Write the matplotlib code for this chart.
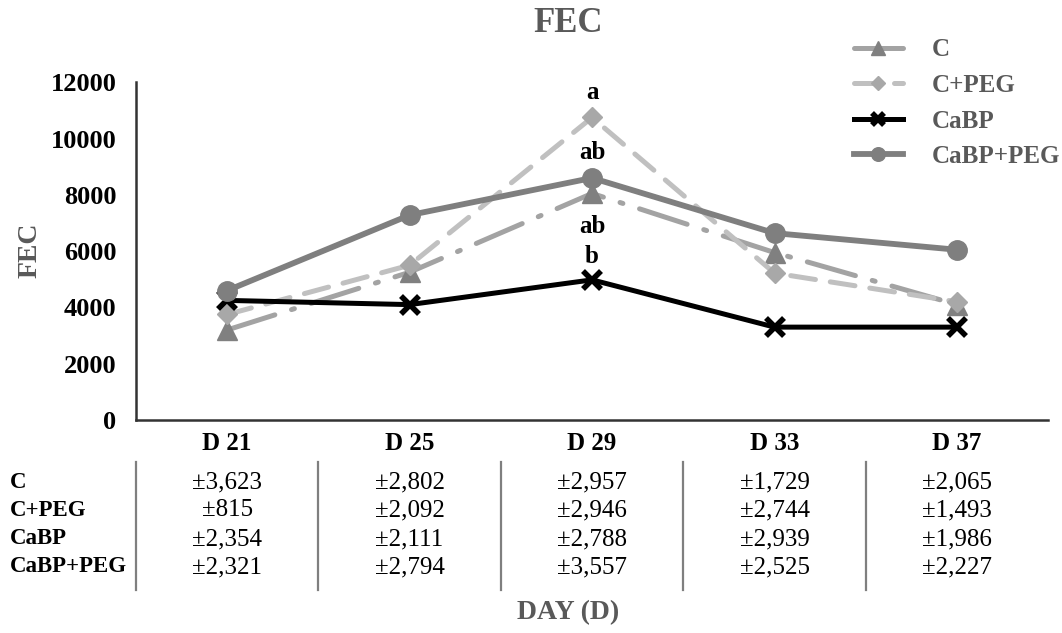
import numpy as np
import matplotlib
matplotlib.use("Agg")
import matplotlib.pyplot as plt
import matplotlib.transforms as mtransforms

plt.rcParams["font.family"] = ["Liberation Serif", "DejaVu Serif"]

# ---- data ----
days = ["D 21", "D 25", "D 29", "D 33", "D 37"]
groups = ["C", "C+PEG", "CaBP", "CaBP+PEG"]

fec_c = [3200, 5250, 8050, 5950, 4100]
fec_c_peg = [3750, 5500, 10750, 5220, 4200]
fec_cabp = [4250, 4100, 4980, 3300, 3300]
fec_cabp_peg = [4600, 7280, 8600, 6640, 6050]

sd_c = ["±3,623", "±2,802", "±2,957", "±1,729", "±2,065"]
sd_c_peg = ["±815", "±2,092", "±2,946", "±2,744", "±1,493"]
sd_cabp = ["±2,354", "±2,111", "±2,788", "±2,939", "±1,986"]
sd_cabp_peg = ["±2,321", "±2,794", "±3,557", "±2,525", "±2,227"]

# significance letters at D 29: (series, letter, offset in points)
letters_d29 = [(fec_c_peg, "a", 18), (fec_cabp_peg, "ab", 18),
               (fec_c, "ab", -24), (fec_cabp, "b", 17)]

x = np.arange(len(days))
gray_txt = "#595959"

fig = plt.figure(figsize=(10.62, 6.33), dpi=100)
ax = fig.add_axes([0.128, 0.3365, 0.859, 0.5335])

ax.plot(x, fec_c, color="#a3a3a3", lw=3.6, dashes=(10, 3.5, 0.6, 3.5),
        dash_capstyle="round", marker="^", ms=14, mfc="#808080", mec="#808080",
        label="C", zorder=3)
ax.plot(x, fec_c_peg, color="#c0c0c0", lw=3.6, dashes=(5, 3),
        dash_capstyle="round", marker="D", ms=10, mfc="#a8a8a8", mec="#a8a8a8",
        label="C+PEG", zorder=3)
ax.plot(x, fec_cabp, color="black", lw=3.6, marker="x", ms=13, mew=4,
        label="CaBP", zorder=4)
ax.plot(x, fec_cabp_peg, color="#7f7f7f", lw=4.2, marker="o", ms=14,
        label="CaBP+PEG", zorder=5)

for series, letter, off in letters_d29:
    ax.annotate(letter, (x[2], series[2]), xytext=(0, off), textcoords="offset points",
                ha="center", va="center", fontsize=18, fontweight="bold")

ax.set_xlim(-0.5, len(days) - 0.5)
ax.set_ylim(0, 12000)
ax.set_yticks(np.arange(0, 12001, 2000))
ax.set_xticks(x)
ax.set_xticklabels(days, fontsize=18, fontweight="bold")
for lab in ax.get_yticklabels():
    lab.set_fontsize(19)
    lab.set_fontweight("bold")
ax.tick_params(axis="y", length=0, pad=14)
ax.tick_params(axis="x", length=0, pad=9)
for s in ["top", "right"]:
    ax.spines[s].set_visible(False)
for s in ["left", "bottom"]:
    ax.spines[s].set_linewidth(1.8)
    ax.spines[s].set_color("#333333")

# ---- data table under the axis ----
trans = mtransforms.blended_transform_factory(ax.transData, fig.transFigure)
row_y = [482, 510, 539, 567]
for g, vals, py in zip(groups, [sd_c, sd_c_peg, sd_cabp, sd_cabp_peg], row_y):
    yf = 1 - py / 633
    fig.text(10 / 1062, yf, g, fontsize=16.5, fontweight="bold", ha="left", va="center")
    for xi, v in zip(x, vals):
        ax.text(xi, yf, v, transform=trans, fontsize=18, ha="center", va="center",
                clip_on=False)
for xb in np.arange(-0.5, len(days) - 1, 1.0):
    ax.plot([xb, xb], [1 - 462 / 633, 1 - 590 / 633], transform=trans,
            color="#7f7f7f", lw=1.6, clip_on=False)

fig.text(0.535, 0.963, "FEC", fontsize=25, fontweight="bold", color=gray_txt,
         ha="center", va="center")
fig.text(0.028, 0.605, "FEC", fontsize=20, fontweight="bold", color=gray_txt,
         ha="center", va="center", rotation=90)
fig.text(0.535, 0.033, "DAY (D)", fontsize=20, fontweight="bold", color=gray_txt,
         ha="center", va="center")

leg = fig.legend(loc="upper left", bbox_to_anchor=(831 / 1062, 1 - 16 / 633),
                 frameon=False, handlelength=1.97, handletextpad=1.15,
                 labelspacing=0.5, numpoints=1, markerscale=0.7,
                 prop={"weight": "bold", "size": 18})
for t in leg.get_texts():
    t.set_color(gray_txt)

fig.savefig("out.png", dpi=100)
